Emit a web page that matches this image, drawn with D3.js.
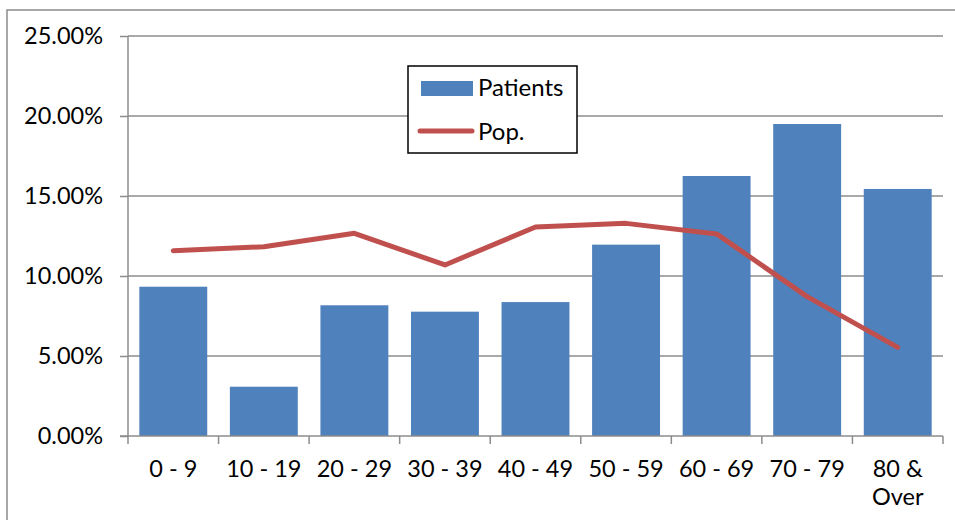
<!DOCTYPE html>
<html><head><meta charset="utf-8">
<script src="https://cdn.jsdelivr.net/npm/d3@7"></script>
<style>body{margin:0;background:#fff}svg{display:block}text{font-family:Lato,"Open Sans",sans-serif;fill:#000}</style>
</head><body>
<svg id="c" width="955" height="520"></svg>
<script>
const categories = ["0 - 9","10 - 19","20 - 29","30 - 39","40 - 49","50 - 59","60 - 69","70 - 79","80 & Over"];
const patients = [9.33, 3.08, 8.17, 7.77, 8.37, 11.96, 16.25, 19.5, 15.44];
const pop = [11.58, 11.83, 12.67, 10.69, 13.06, 13.29, 12.63, 8.71, 5.54];
const yTicks = [0, 5, 10, 15, 20, 25];

const svg = d3.select("#c");
const L = 128, R = 943, T = 36, B = 436;
svg.append("rect").attr("x",7).attr("y",10).attr("width",960).attr("height",520)
  .attr("fill","none").attr("stroke","#8c8c8c").attr("stroke-width",1.5);

const x = d3.scaleBand().domain(categories).range([L,R]).paddingInner(0.25).paddingOuter(0.125);
const xc = d3.scaleBand().domain(categories).range([L,R]);
const y = d3.scaleLinear().domain([0,25]).range([B,T]);

// gridlines
svg.append("g").selectAll("line").data(yTicks.filter(d=>d>0)).join("line")
  .attr("x1",L).attr("x2",R).attr("y1",d=>y(d)).attr("y2",d=>y(d))
  .attr("stroke","#8c8c8c").attr("stroke-width",1.5);

// y axis
const ya = svg.append("g").attr("transform",`translate(${L},0)`)
  .call(d3.axisLeft(y).tickValues(yTicks).tickSize(8).tickPadding(17).tickFormat(d=>d.toFixed(2)+"%"));
ya.select(".domain").attr("stroke","#8c8c8c").attr("stroke-width",1.5).attr("d",`M0,${T}V${B}`);
ya.selectAll(".tick line").attr("stroke","#8c8c8c").attr("stroke-width",1.5);
ya.selectAll("text").style("font-size","23.5px").attr("font-family","Lato").attr("fill","#000");

// bars
svg.append("g").selectAll("rect").data(categories).join("rect")
  .attr("x",d=>x(d)).attr("width",x.bandwidth())
  .attr("y",(d,i)=>y(patients[i])).attr("height",(d,i)=>B-y(patients[i]))
  .attr("fill","#4f81bd");

// x axis
const xa = svg.append("g").attr("transform",`translate(0,${B})`);
xa.append("line").attr("x1",L-8).attr("x2",R).attr("y1",0).attr("y2",0).attr("stroke","#8c8c8c").attr("stroke-width",1.5);
const edges = categories.map(c=>xc(c)).concat([R]);
xa.selectAll("line.tk").data(edges).join("line").attr("class","tk")
  .attr("x1",d=>d).attr("x2",d=>d).attr("y1",0).attr("y2",8)
  .attr("stroke","#8c8c8c").attr("stroke-width",1.5);
xa.selectAll("text").data(categories).join("text")
  .attr("x",d=>xc(d)+xc.bandwidth()/2).attr("y",41)
  .attr("text-anchor","middle").style("font-size","23.5px")
  .each(function(d){
    const parts = d==="80 & Over" ? ["80 &","Over"] : [d];
    const t = d3.select(this);
    parts.forEach((p,i)=>t.append("tspan").attr("x",xc(d)+xc.bandwidth()/2).attr("dy",i?28:0).text(p));
  });

// line
const line = d3.line().x((d,i)=>xc(categories[i])+xc.bandwidth()/2).y(d=>y(d));
svg.append("path").datum(pop).attr("d",line).attr("fill","none")
  .attr("stroke","#c0504d").attr("stroke-width",5).attr("stroke-linecap","round").attr("stroke-linejoin","round");

// legend
const lg = svg.append("g");
lg.append("rect").attr("x",408).attr("y",66).attr("width",169).attr("height",87)
  .attr("fill","#fff").attr("stroke","#000").attr("stroke-width",1.5);
lg.append("rect").attr("x",421).attr("y",81).attr("width",52).attr("height",15).attr("fill","#4f81bd");
lg.append("line").attr("x1",420).attr("x2",472).attr("y1",131).attr("y2",131)
  .attr("stroke","#c0504d").attr("stroke-width",5).attr("stroke-linecap","round");
lg.append("text").attr("x",478).attr("y",96).style("font-size","24px").text("Patients");
lg.append("text").attr("x",478).attr("y",140).style("font-size","24px").text("Pop.");
</script>
</body></html>
